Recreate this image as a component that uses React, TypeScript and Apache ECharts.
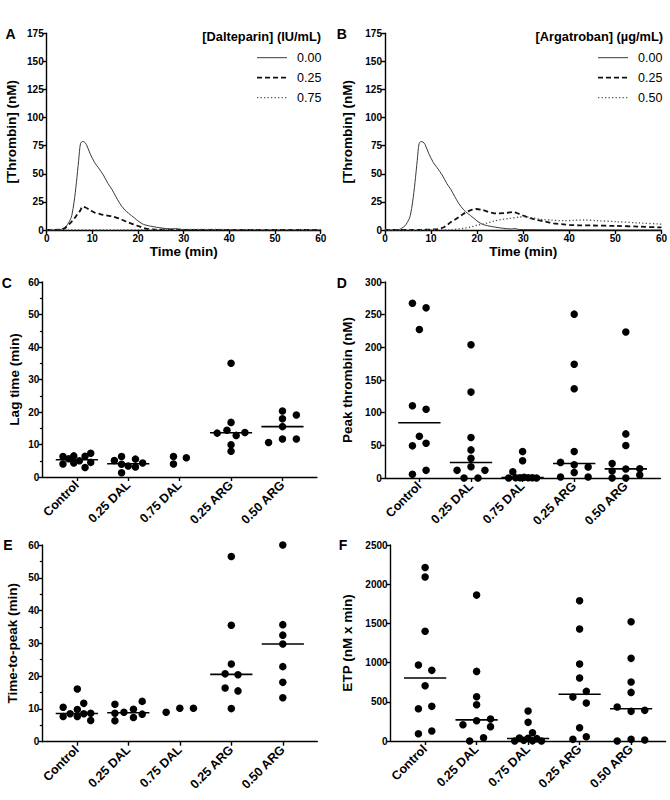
import React, { useEffect, useRef } from 'react';
import * as echarts from 'echarts';

// ---------- Data ----------
const categories = ['Control', '0.25 DAL', '0.75 DAL', '0.25 ARG', '0.50 ARG'];

// Panel A / B thrombin generation curves: [time (min), thrombin (nM)]
const control000: number[][] = [
  [0, 0], [2, 0], [3, 0.3], [3.6, 1.5], [4.3, 3.5], [4.8, 6.5], [5.2, 9.5], [5.5, 13], [6.0, 25], [6.5, 42],
  [7.0, 62], [7.4, 77], [7.8, 78.6], [8.2, 78.4], [8.7, 76], [9.5, 68], [10.5, 60], [11.3, 55.5], [12.4, 49],
  [13.4, 41.5], [14.3, 36], [15.1, 30], [16.0, 23.7], [17.1, 17.8], [17.9, 15], [19.3, 10.4], [20.2, 7.4],
  [21.2, 5], [22.3, 3.8], [23.3, 3], [24.8, 2], [26.3, 1.2], [27.5, 0.9], [28.2, 1.3], [29, 0.5], [31, 0.3],
  [35, 0.2], [40, 0.1], [50, 0], [60, 0],
];
const dal025: number[][] = [
  [0, 0], [3, 0.3], [4, 1.5], [5.1, 6], [6.0, 10], [6.6, 13.3], [7.3, 17], [7.9, 20.8], [8.5, 20], [9.5, 17.8],
  [10.5, 15.5], [11.7, 14.2], [13, 13], [14.6, 11.9], [16, 10], [17.5, 7.4], [19, 5], [20.4, 3], [21.5, 1.5],
  [22.6, 0.6], [24, 0.3], [30, 0.2], [40, 0.1], [60, 0],
];
const dal075: number[][] = [
  [0, 0], [10, 0.1], [20, 0.2], [30, 0.5], [40, 0.4], [50, 0.2], [60, 0.1],
];
const arg025: number[][] = [
  [0, 0], [8, 0.2], [10, 0.4], [11.5, 0.8], [12.5, 2], [13.5, 4.5], [14.4, 7.4], [15.5, 10], [17.2, 14.8],
  [18.5, 17.5], [19.8, 18.7], [21, 18], [22.3, 16.3], [23.5, 15], [24.4, 14.8], [26, 15], [27.7, 16], [29, 14.5],
  [30.2, 12.5], [31.5, 10.5], [33, 8.9], [34.8, 7.5], [36.6, 5.9], [38.8, 5], [40.2, 4.4], [42, 4.2], [45, 4],
  [50.3, 3.6], [55, 3], [59.6, 2.4], [60, 2.4],
];
const arg050: number[][] = [
  [0, 0], [10, 0], [14, 0.2], [15, 0.5], [17, 1.5], [18.5, 2.5], [20.1, 4.4], [22, 6], [23.7, 8], [25.5, 9.5],
  [27.3, 10.4], [29, 11.4], [30.2, 11.9], [32, 10.8], [33.8, 9.5], [36, 8.8], [38.8, 8.3], [41, 8.6], [43.1, 8.9],
  [46, 8.3], [50.3, 7.4], [55, 6.3], [59.6, 5.3], [60, 5.2],
];

const legendA = ['0.00', '0.25', '0.75'];
const legendB = ['0.00', '0.25', '0.50'];

// Panel C: lag time (min), per group
const lagTime = [
  [6.3, 4.0, 5.6, 6.5, 4.3, 5.0, 6.4, 2.9, 7.3, 4.5],
  [5.1, 6.3, 3.9, 1.3, 3.4, 5.5, 3.1, 4.3],
  [6.3, 4.0, 5.9],
  [35.0, 16.8, 13.5, 14.4, 12.8, 13.7, 9.9, 7.9],
  [20.3, 19.1, 17.9, 15.5, 10.6, 11.7, 11.7],
];
const lagJitter = [
  [-0.27, -0.27, -0.16, -0.06, -0.06, 0.05, 0.16, 0.16, 0.27, 0.27],
  [-0.27, -0.13, -0.13, -0.13, 0, 0.14, 0.14, 0.28],
  [-0.12, -0.12, 0.13],
  [0, 0, -0.27, -0.08, 0.1, 0.27, 0, 0],
  [0, 0.27, 0, 0, -0.27, 0, 0.27],
];

// Panel D: peak thrombin (nM)
const peakThrombin = [
  [267.5, 260.4, 227.4, 110.7, 105.1, 64, 49.2, 53.3, 5.6, 11.7],
  [204, 131.5, 62, 43, 30, 17.3, 11.7, 11.7, 0, 0],
  [40.6, 26.4, 9.6, 0, 0.5, 0.5, 1, 0.5, 0.5, 0],
  [250.8, 174, 136.5, 40.6, 23.9, 20.3, 16.8, 8.6, 1.5, 1.5],
  [223.4, 67.5, 49.7, 22.3, 10.7, 0, 13.7, 0, 14.2, 4.6],
];
const peakJitter = [
  [-0.135, 0.13, 0, -0.135, 0.13, 0, -0.135, 0.13, -0.135, 0.13],
  [0, 0, 0, 0, 0, 0, -0.27, 0.27, -0.135, 0.135],
  [0, 0, -0.19, -0.27, -0.135, -0.05, 0.03, 0.11, 0.19, 0.27],
  [0, 0, 0, 0, -0.265, 0, 0.27, 0, -0.265, 0.27],
  [0, 0, 0, -0.265, -0.265, -0.265, 0, 0, 0.27, 0.27],
];

// Panel E: time-to-peak (min)
const timeToPeak = [
  [16.1, 10.5, 11.7, 9.8, 8.5, 7.7, 7.7, 8.5, 8.7, 6.5],
  [11.4, 8.7, 6.4, 9.0, 9.9, 7.4, 12.3, 8.4],
  [9.0, 10.2, 10.2],
  [56.5, 35.5, 23.7, 20.7, 20.4, 16.4, 15.5, 10.1],
  [60, 35.7, 32.5, 29.8, 22.9, 18.1, 13.4],
];
const ttpJitter = [
  [0.01, -0.265, 0.135, 0.01, -0.13, -0.265, 0.01, 0.135, 0.27, 0.27],
  [-0.26, -0.26, -0.26, -0.085, 0.1, 0.1, 0.27, 0.27],
  [-0.265, 0, 0.265],
  [0, 0, 0, -0.12, 0.13, -0.12, 0.13, 0],
  [0, 0, 0, 0, 0, 0, 0],
];

// Panel F: ETP (nM x min)
const etp = [
  [2214, 2091, 1399, 969, 901, 705, 412, 442, 93.5, 127.5],
  [1861, 888, 565, 463, 208, 259, 280, 183, 0, 42.5],
  [382, 238, 106, 38, 34, 30, 8, 0, 2, 0],
  [1789, 1428, 982, 803, 633, 561, 484, 170, 55, 21],
  [1521, 1054, 752, 620, 433, 378, 391, 0, 21, 13],
];
const etpJitter = [
  [0, 0, 0, -0.13, 0.13, 0, -0.13, 0.13, -0.13, 0.13],
  [0, 0, 0, 0, -0.265, 0, 0.27, 0.27, -0.135, 0.135],
  [0, 0, 0.085, -0.17, 0, 0.17, -0.085, -0.26, 0.085, 0.26],
  [0, 0, 0, 0, 0.13, -0.13, 0.13, 0, 0.13, -0.13],
  [0, 0, 0, 0, -0.27, 0, 0.265, -0.27, 0, 0.265],
];

// groups showing a median line (C and E: none for 0.75 DAL)
const medianShownCE = [true, true, false, true, true];
const medianShownDF = [true, true, true, true, true];

// ---------- helpers ----------
const FONT = 'Liberation Sans, Arial, sans-serif';

function median(arr: number[]) {
  const s = [...arr].sort((a, b) => a - b);
  const n = s.length;
  return n % 2 ? s[(n - 1) / 2] : (s[n / 2 - 1] + s[n / 2]) / 2;
}

const axisLineStyle = { color: '#000', width: 1.4 };

function valueYAxis(gridIndex: number, max: number, interval: number, name: string, nameGap: number, minor: boolean) {
  return {
    type: 'value', gridIndex, min: 0, max, interval,
    name, nameLocation: 'middle', nameGap,
    nameTextStyle: { fontFamily: FONT, fontWeight: 'bold', fontSize: 13.5, color: '#000' },
    axisLine: { show: true, lineStyle: axisLineStyle },
    axisTick: { show: true, length: 4, lineStyle: axisLineStyle },
    minorTick: { show: minor, splitNumber: 2, length: 2.5, lineStyle: { color: '#000', width: 1.2 } },
    axisLabel: {
      fontFamily: FONT, fontWeight: 'bold', fontSize: 10, color: '#000', margin: 3,
      formatter: (v: number) => String(v),
    },
    splitLine: { show: false },
  };
}

function catXAxis(gridIndex: number) {
  return {
    type: 'value', gridIndex, min: 0.33, max: 5.67,
    axisLine: { show: true, onZero: false, lineStyle: axisLineStyle },
    axisTick: { show: true, length: 4, lineStyle: axisLineStyle, customValues: [1, 2, 3, 4, 5] },
    axisLabel: {
      customValues: [1, 2, 3, 4, 5],
      formatter: (v: number) => categories[Math.round(v) - 1] ?? '',
      rotate: 45, fontFamily: FONT, fontWeight: 'bold', fontSize: 12.5, color: '#000', margin: 6,
    },
    splitLine: { show: false },
  };
}

function timeXAxis(gridIndex: number) {
  return {
    type: 'value', gridIndex, min: 0, max: 60, interval: 10,
    name: 'Time (min)', nameLocation: 'middle', nameGap: 14,
    nameTextStyle: { fontFamily: FONT, fontWeight: 'bold', fontSize: 13.5, color: '#000' },
    axisLine: { show: true, onZero: false, lineStyle: axisLineStyle },
    axisTick: { show: true, length: 4, lineStyle: axisLineStyle },
    axisLabel: { fontFamily: FONT, fontWeight: 'bold', fontSize: 10, color: '#000', margin: 3 },
    splitLine: { show: false },
  };
}

function scatterSeries(groups: number[][], jitter: number[][], axisIndex: number) {
  const data: number[][] = [];
  groups.forEach((vals, gi) => vals.forEach((v, i) => data.push([gi + 1 + jitter[gi][i], v])));
  return {
    type: 'scatter', xAxisIndex: axisIndex, yAxisIndex: axisIndex, data,
    symbol: 'circle', symbolSize: 7.5, clip: false,
    itemStyle: { color: '#000', opacity: 1 }, z: 3,
  };
}

function medianSeries(groups: number[][], shown: boolean[], axisIndex: number) {
  const data = groups.map((vals, gi) => [gi + 1, median(vals)]).filter((_, gi) => shown[gi]);
  return {
    type: 'custom', xAxisIndex: axisIndex, yAxisIndex: axisIndex, data, z: 2,
    renderItem: (_p: any, api: any) => {
      const c = api.value(0);
      const m = api.value(1);
      const p1 = api.coord([c - 0.41, m]);
      const p2 = api.coord([c + 0.41, m]);
      return {
        type: 'line',
        shape: { x1: p1[0], y1: p1[1], x2: p2[0], y2: p2[1] },
        style: { stroke: '#000', lineWidth: 1.6 },
      };
    },
  };
}

const solidStyle = { color: '#3a3a3a', width: 1, type: 'solid', dash: null as number[] | null };
const dashStyle = { color: '#111', width: 1.8, type: [5, 3], dash: [5, 3] };
const dotStyle = { color: '#555', width: 1.3, type: [1.3, 2.2], dash: [1.3, 2.2] };
const lineStyles = [solidStyle, dashStyle, dotStyle];

function curve(name: string, data: number[][], axisIndex: number, ls: any) {
  return {
    type: 'line', name, data, xAxisIndex: axisIndex, yAxisIndex: axisIndex,
    showSymbol: false, symbol: 'none', smooth: 0.3,
    lineStyle: { color: ls.color, width: ls.width, type: ls.type },
  };
}

function letter(text: string, x: number, y: number) {
  return {
    type: 'text', x, y,
    style: { text, fontFamily: FONT, fontWeight: 'bold', fontSize: 14, fill: '#000', align: 'center', verticalAlign: 'middle' },
  };
}

function legendBlock(title: string, labels: string[], titleRight: number, lineLeft: number, top: number) {
  const els: any[] = [{
    type: 'text', x: titleRight, y: top,
    style: { text: title, fontFamily: FONT, fontWeight: 'bold', fontSize: 12.8, fill: '#000', align: 'right', verticalAlign: 'middle' },
  }];
  labels.forEach((lab, i) => {
    const y = top + 21 + i * 20;
    const ls = lineStyles[i];
    els.push({
      type: 'line',
      shape: { x1: lineLeft, y1: y, x2: lineLeft + 30, y2: y },
      style: { stroke: ls.color, lineWidth: ls.width, lineDash: ls.dash || undefined },
    });
    els.push({
      type: 'text', x: lineLeft + 40, y,
      style: { text: lab, fontFamily: FONT, fontSize: 12.5, fill: '#000', align: 'left', verticalAlign: 'middle' },
    });
  });
  return els;
}

export default function App() {
  const ref = useRef<HTMLDivElement>(null);

  useEffect(() => {
    if (!ref.current) return;
    const chart = echarts.init(ref.current, null, { renderer: 'svg' });

    const option: any = {
      animation: false,
      backgroundColor: '#fff',
      grid: [
        { left: 46.7, top: 33.3, width: 274, height: 196.7 },
        { left: 385, top: 33.3, width: 278.3, height: 196.7 },
        { left: 42.4, top: 282, width: 274.5, height: 195 },
        { left: 384.8, top: 282, width: 275.6, height: 196 },
        { left: 42.3, top: 545, width: 275, height: 196.7 },
        { left: 390.6, top: 545, width: 275, height: 196 },
      ],
      xAxis: [timeXAxis(0), timeXAxis(1), catXAxis(2), catXAxis(3), catXAxis(4), catXAxis(5)],
      yAxis: [
        valueYAxis(0, 175, 25, '[Thrombin] (nM)', 28, false),
        valueYAxis(1, 175, 25, '[Thrombin] (nM)', 31, false),
        valueYAxis(2, 60, 10, 'Lag time (min)', 21, true),
        valueYAxis(3, 300, 50, 'Peak thrombin (nM)', 30, false),
        valueYAxis(4, 60, 10, 'Time-to-peak (min)', 23, true),
        valueYAxis(5, 2500, 500, 'ETP (nM x min)', 36, false),
      ],
      series: [
        curve(legendA[0], control000, 0, solidStyle),
        curve(legendA[1], dal025, 0, dashStyle),
        curve(legendA[2], dal075, 0, dotStyle),
        curve(legendB[0], control000, 1, solidStyle),
        curve(legendB[1], arg025, 1, dashStyle),
        curve(legendB[2], arg050, 1, dotStyle),
        medianSeries(lagTime, medianShownCE, 2),
        scatterSeries(lagTime, lagJitter, 2),
        medianSeries(peakThrombin, medianShownDF, 3),
        scatterSeries(peakThrombin, peakJitter, 3),
        medianSeries(timeToPeak, medianShownCE, 4),
        scatterSeries(timeToPeak, ttpJitter, 4),
        medianSeries(etp, medianShownDF, 5),
        scatterSeries(etp, etpJitter, 5),
      ],
      graphic: [
        letter('A', 10.5, 33.5),
        letter('B', 341.7, 33.5),
        letter('C', 6.7, 283.3),
        letter('D', 341.7, 283.3),
        letter('E', 8, 545),
        letter('F', 343, 545),
        ...legendBlock('[Dalteparin] (IU/mL)', legendA, 321, 257, 36.7),
        ...legendBlock('[Argatroban] (µg/mL)', legendB, 663, 598, 36.7),
      ],
    };
    chart.setOption(option);
    return () => chart.dispose();
  }, []);

  return (
    <div
      ref={ref}
      style={{ position: 'absolute', left: 0, top: 0, width: 670, height: 800, background: '#fff' }}
    />
  );
}
